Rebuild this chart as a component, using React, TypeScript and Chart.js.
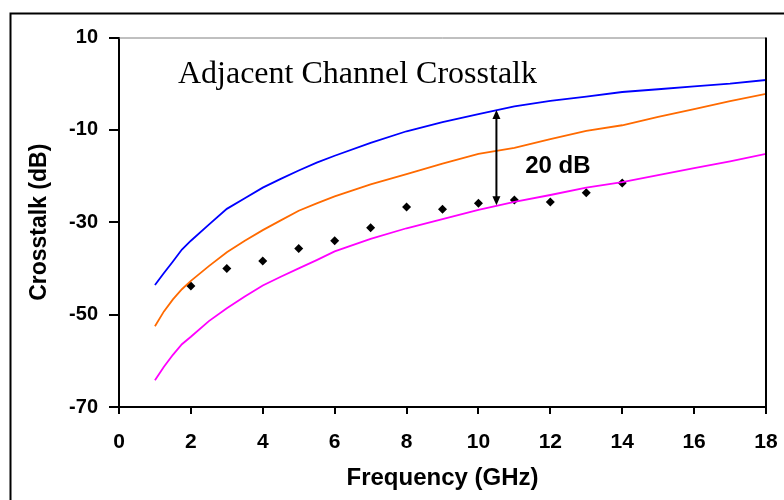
import React, { useEffect, useRef } from "react";
import { Chart, registerables } from "chart.js";

Chart.register(...registerables);

// ---- data ----
const freqGHz = [1, 1.25, 1.5, 1.75, 2, 2.5, 3, 3.5, 4, 4.5, 5, 5.5, 6, 7, 8, 9, 10, 11, 12, 13, 14, 15, 16, 17, 18];
const blueSeries = [-43.6, -41.0, -38.5, -35.9, -34.0, -30.5, -27.1, -24.8, -22.5, -20.6, -18.8, -17.1, -15.6, -12.8, -10.3, -8.3, -6.6, -4.9, -3.7, -2.8, -1.8, -1.2, -0.6, 0.0, 0.8];
const orangeSeries = [-52.5, -49.3, -46.7, -44.5, -42.7, -39.5, -36.5, -34.0, -31.7, -29.6, -27.5, -25.9, -24.4, -21.8, -19.6, -17.3, -15.2, -13.9, -12.0, -10.2, -9.0, -7.2, -5.5, -3.8, -2.2];
const magentaSeries = [-64.2, -61.3, -58.7, -56.4, -54.8, -51.4, -48.6, -46.1, -43.7, -41.8, -40.0, -38.2, -36.3, -33.6, -31.3, -29.3, -27.3, -25.6, -24.1, -22.5, -21.3, -19.8, -18.3, -16.8, -15.2];
const measuredFreq = [2, 3, 4, 5, 6, 7, 8, 9, 10, 11, 12, 13, 14];
const measuredValues = [-43.8, -40.0, -38.4, -35.7, -34.0, -31.2, -26.7, -27.2, -25.9, -25.2, -25.6, -23.6, -21.5];
const xTicks = [0, 2, 4, 6, 8, 10, 12, 14, 16, 18];
const yTicks = [10, -10, -30, -50, -70];
const titleText = "Adjacent Channel Crosstalk";
const titleAnchor = [1.64, 0.1];
const arrowFreq = 10.5;
const arrowTop = -5.7;
const arrowBottom = -26.3;
const arrowLabel = "20 dB";
const arrowLabelAnchor = [11.3, -17.9];

const toPts = (xs: number[], ys: number[]) => xs.map((x, i) => ({ x, y: ys[i] }));

const decorPlugin = {
  id: "decor",
  beforeDraw(chart: any) {
    const ctx = chart.ctx;
    ctx.save();
    ctx.fillStyle = "#fff";
    ctx.fillRect(0, 0, chart.width, chart.height);
    ctx.restore();
  },
  afterDraw(chart: any) {
    const ctx = chart.ctx;
    const xs = chart.scales.x;
    const ys = chart.scales.y;
    const a = chart.chartArea;
    ctx.save();
    // outer frame
    ctx.strokeStyle = "#000";
    ctx.lineWidth = 2;
    ctx.strokeRect(10.5, 13.5, 900, 700);
    // plot frame top (gray) and right (black)
    ctx.strokeStyle = "#808080";
    ctx.lineWidth = 1;
    ctx.beginPath();
    ctx.moveTo(a.left, a.top + 0.5);
    ctx.lineTo(a.right, a.top + 0.5);
    ctx.stroke();
    ctx.strokeStyle = "#000";
    ctx.lineWidth = 2;
    ctx.beginPath();
    ctx.moveTo(a.right, a.top);
    ctx.lineTo(a.right, a.bottom);
    ctx.stroke();
    // title text
    ctx.fillStyle = "#000";
    ctx.font = '32px "Liberation Serif", "Times New Roman", serif';
    ctx.textAlign = "left";
    ctx.textBaseline = "alphabetic";
    ctx.fillText(titleText, xs.getPixelForValue(titleAnchor[0]), ys.getPixelForValue(titleAnchor[1]));
    // arrow
    const ax = xs.getPixelForValue(arrowFreq);
    const y1 = ys.getPixelForValue(arrowTop);
    const y2 = ys.getPixelForValue(arrowBottom);
    ctx.strokeStyle = "#000";
    ctx.lineWidth = 2;
    ctx.beginPath();
    ctx.moveTo(ax, y1 + 6);
    ctx.lineTo(ax, y2 - 6);
    ctx.stroke();
    ctx.beginPath();
    ctx.moveTo(ax, y1);
    ctx.lineTo(ax - 4, y1 + 9);
    ctx.lineTo(ax + 4, y1 + 9);
    ctx.closePath();
    ctx.fill();
    ctx.beginPath();
    ctx.moveTo(ax, y2);
    ctx.lineTo(ax - 4, y2 - 9);
    ctx.lineTo(ax + 4, y2 - 9);
    ctx.closePath();
    ctx.fill();
    // arrow label
    ctx.font = 'bold 24px "Liberation Sans", Arial, sans-serif';
    ctx.textBaseline = "middle";
    ctx.fillText(arrowLabel, xs.getPixelForValue(arrowLabelAnchor[0]), ys.getPixelForValue(arrowLabelAnchor[1]));
    ctx.restore();
  },
};

export default function App() {
  const ref = useRef<HTMLCanvasElement | null>(null);
  useEffect(() => {
    if (!ref.current) return;
    const fam = '"Liberation Sans", Arial, sans-serif';
    const xTickFont = { family: fam, size: 21, weight: "bold" as const };
    const yTickFont = { family: fam, size: 20, weight: "bold" as const };
    const xTitleFont = { family: fam, size: 24, weight: "bold" as const };
    const yTitleFont = { family: fam, size: 23, weight: "bold" as const };
    const chart = new Chart(ref.current, {
      type: "scatter",
      data: {
        datasets: [
          { label: "blue", data: toPts(freqGHz, blueSeries), showLine: true, borderColor: "#0000FF", borderWidth: 1.8, pointRadius: 0, tension: 0 },
          { label: "orange", data: toPts(freqGHz, orangeSeries), showLine: true, borderColor: "#FF6A00", borderWidth: 1.8, pointRadius: 0, tension: 0 },
          { label: "magenta", data: toPts(freqGHz, magentaSeries), showLine: true, borderColor: "#FF00FF", borderWidth: 1.8, pointRadius: 0, tension: 0 },
          { label: "measured", data: toPts(measuredFreq, measuredValues), showLine: false, pointStyle: "rectRot", pointRadius: 4.5, backgroundColor: "#000", borderColor: "#000", borderWidth: 0 },
        ],
      },
      options: {
        animation: false,
        responsive: true,
        maintainAspectRatio: false,
        layout: { padding: { left: 0, top: 37.5, right: 18, bottom: 0 } },
        plugins: { legend: { display: false }, tooltip: { enabled: false } },
        scales: {
          x: {
            type: "linear",
            min: 0,
            max: 18,
            afterBuildTicks: (s: any) => { s.ticks = xTicks.map((v) => ({ value: v })); },
            afterFit: (s: any) => { s.height = 93; s.paddingLeft = 0; s.paddingRight = 0; },
            ticks: { font: xTickFont, color: "#000", padding: 16 },
            grid: { drawOnChartArea: false, drawTicks: true, tickLength: 7, color: "#000", lineWidth: 2 },
            border: { display: true, color: "#000", width: 2 },
            title: { display: true, text: "Frequency (GHz)", font: xTitleFont, color: "#000", padding: { top: 0, bottom: 7 } },
          },
          y: {
            type: "linear",
            min: -70,
            max: 10,
            afterBuildTicks: (s: any) => { s.ticks = yTicks.map((v) => ({ value: v })); },
            afterFit: (s: any) => { s.width = 119; s.paddingTop = 0; s.paddingBottom = 0; },
            ticks: { font: yTickFont, color: "#000", padding: 11 },
            grid: { drawOnChartArea: false, drawTicks: true, tickLength: 10, color: "#000", lineWidth: 2 },
            border: { display: true, color: "#000", width: 2 },
            title: { display: true, text: "Crosstalk (dB)", font: yTitleFont, color: "#000", padding: { top: 26, bottom: 0 } },
          },
        },
      },
      plugins: [decorPlugin],
    });
    return () => chart.destroy();
  }, []);
  return (
    <div style={{ position: "fixed", left: 0, top: 0, width: 784, height: 500, background: "#fff" }}>
      <canvas ref={ref} />
    </div>
  );
}
